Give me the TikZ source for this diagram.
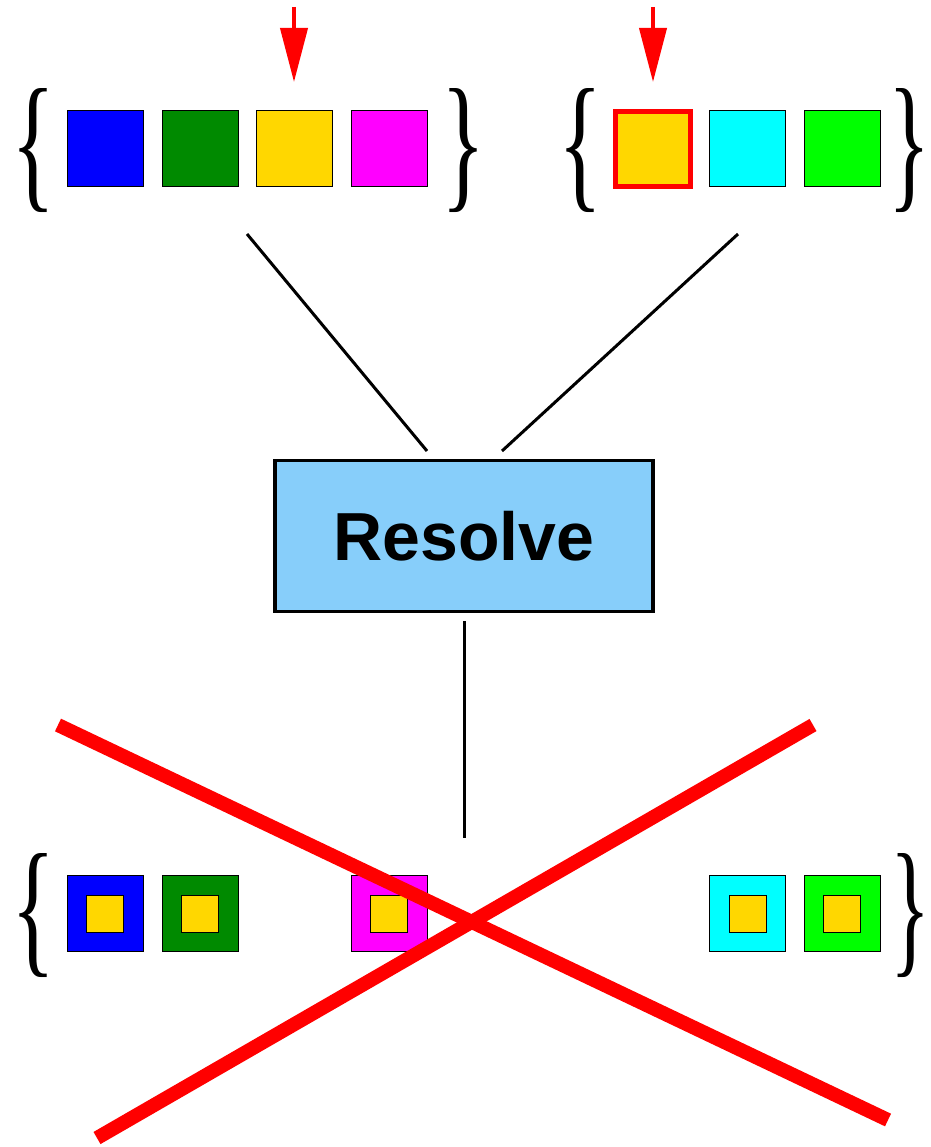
\documentclass[tikz,border=0pt]{standalone}
\usepackage{fontspec}
\usepackage{graphicx}
\newfontfamily\labelfont{Liberation Sans}
\newfontfamily\bracefont{Liberation Serif}
\usetikzlibrary{arrows.meta}
\definecolor{cblue}{HTML}{0000FF}
\definecolor{cgreen}{HTML}{008A00}
\definecolor{cgold}{HTML}{FFD700}
\definecolor{cmag}{HTML}{FF00FF}
\definecolor{ccyan}{HTML}{00FFFF}
\definecolor{clime}{HTML}{00FF00}
\definecolor{cbox}{HTML}{87CEFA}
\begin{document}
\begin{tikzpicture}[x=1pt,y=-1pt,
  sq/.style={draw=black, line width=1pt, minimum size=76pt, inner sep=0pt, fill=#1},
  inner/.style={draw=black, line width=1pt, minimum size=37pt, inner sep=0pt, fill=cgold},
  brace/.style={inner sep=0pt, font=\bracefont},
  conn/.style={draw=black, line width=3pt},
  marker/.style={draw=red, line width=4pt, -{Triangle[width=27pt,length=54pt]}},
  cross/.style={draw=red, line width=14pt},
  resolvebox/.style={draw=black, line width=3.5pt, fill=cbox, minimum width=378pt, minimum height=151pt, inner sep=0pt, font=\labelfont\bfseries\fontsize{68pt}{80pt}\selectfont}
]
\useasboundingbox (0,0) rectangle (930,1147);

% top-left set
\node[sq=cblue] (a1) at (105,149) {};
\node[sq=cgreen] (a2) at (200,149) {};
\node[sq=cgold] (a3) at (294,149) {};
\node[sq=cmag] (a4) at (389,149) {};
\node[brace] (al) at (33.5,151) {\resizebox*{44pt}{124pt}{\{}};
\node[brace] (ar) at (463.5,151) {\resizebox*{44pt}{124pt}{\}}};

% top-right set
\node[sq=cgold, draw=red, line width=5pt, minimum size=75pt] (b1) at (653,149) {};
\node[sq=ccyan] (b2) at (747.5,149) {};
\node[sq=clime] (b3) at (842,149) {};
\node[brace] (bl) at (581,151) {\resizebox*{44pt}{124pt}{\{}};
\node[brace] (br) at (909,151) {\resizebox*{42pt}{124pt}{\}}};

% red markers
\coordinate (m1s) at (294,7);
\coordinate (m1e) at (294,82);
\coordinate (m2s) at (653,7);
\coordinate (m2e) at (653,82);
\draw[marker] (m1s) -- (m1e);
\draw[marker] (m2s) -- (m2e);

% resolve box
\node[resolvebox] (res) at (464,536) {Resolve};

% connectors
\coordinate (c1a) at (247,234);
\coordinate (c1b) at (427,451);
\coordinate (c2a) at (738,234);
\coordinate (c2b) at (502,451);
\coordinate (c3a) at (464,621);
\coordinate (c3b) at (464,838);
\draw[conn] (c1a) -- (c1b);
\draw[conn] (c2a) -- (c2b);
\draw[conn] (c3a) -- (c3b);

% bottom set
\node[sq=cblue] (d1) at (105,913.5) {};
\node[inner] (e1) at (d1) {};
\node[sq=cgreen] (d2) at (200,913.5) {};
\node[inner] (e2) at (d2) {};
\node[sq=cmag] (d3) at (389,913.5) {};
\node[inner] (e3) at (d3) {};
\node[sq=ccyan] (d4) at (747.5,913.5) {};
\node[inner] (e4) at (d4) {};
\node[sq=clime] (d5) at (842,913.5) {};
\node[inner] (e5) at (d5) {};
\node[brace] (dl) at (33.5,916) {\resizebox*{44pt}{124pt}{\{}};
\node[brace] (dr) at (910,916) {\resizebox*{40pt}{124pt}{\}}};

% red cross
\coordinate (x1a) at (58,725);
\coordinate (x1b) at (888,1120);
\coordinate (x2a) at (97,1138);
\coordinate (x2b) at (813,725);
\draw[cross] (x1a) -- (x1b);
\draw[cross] (x2a) -- (x2b);
\end{tikzpicture}
\end{document}
